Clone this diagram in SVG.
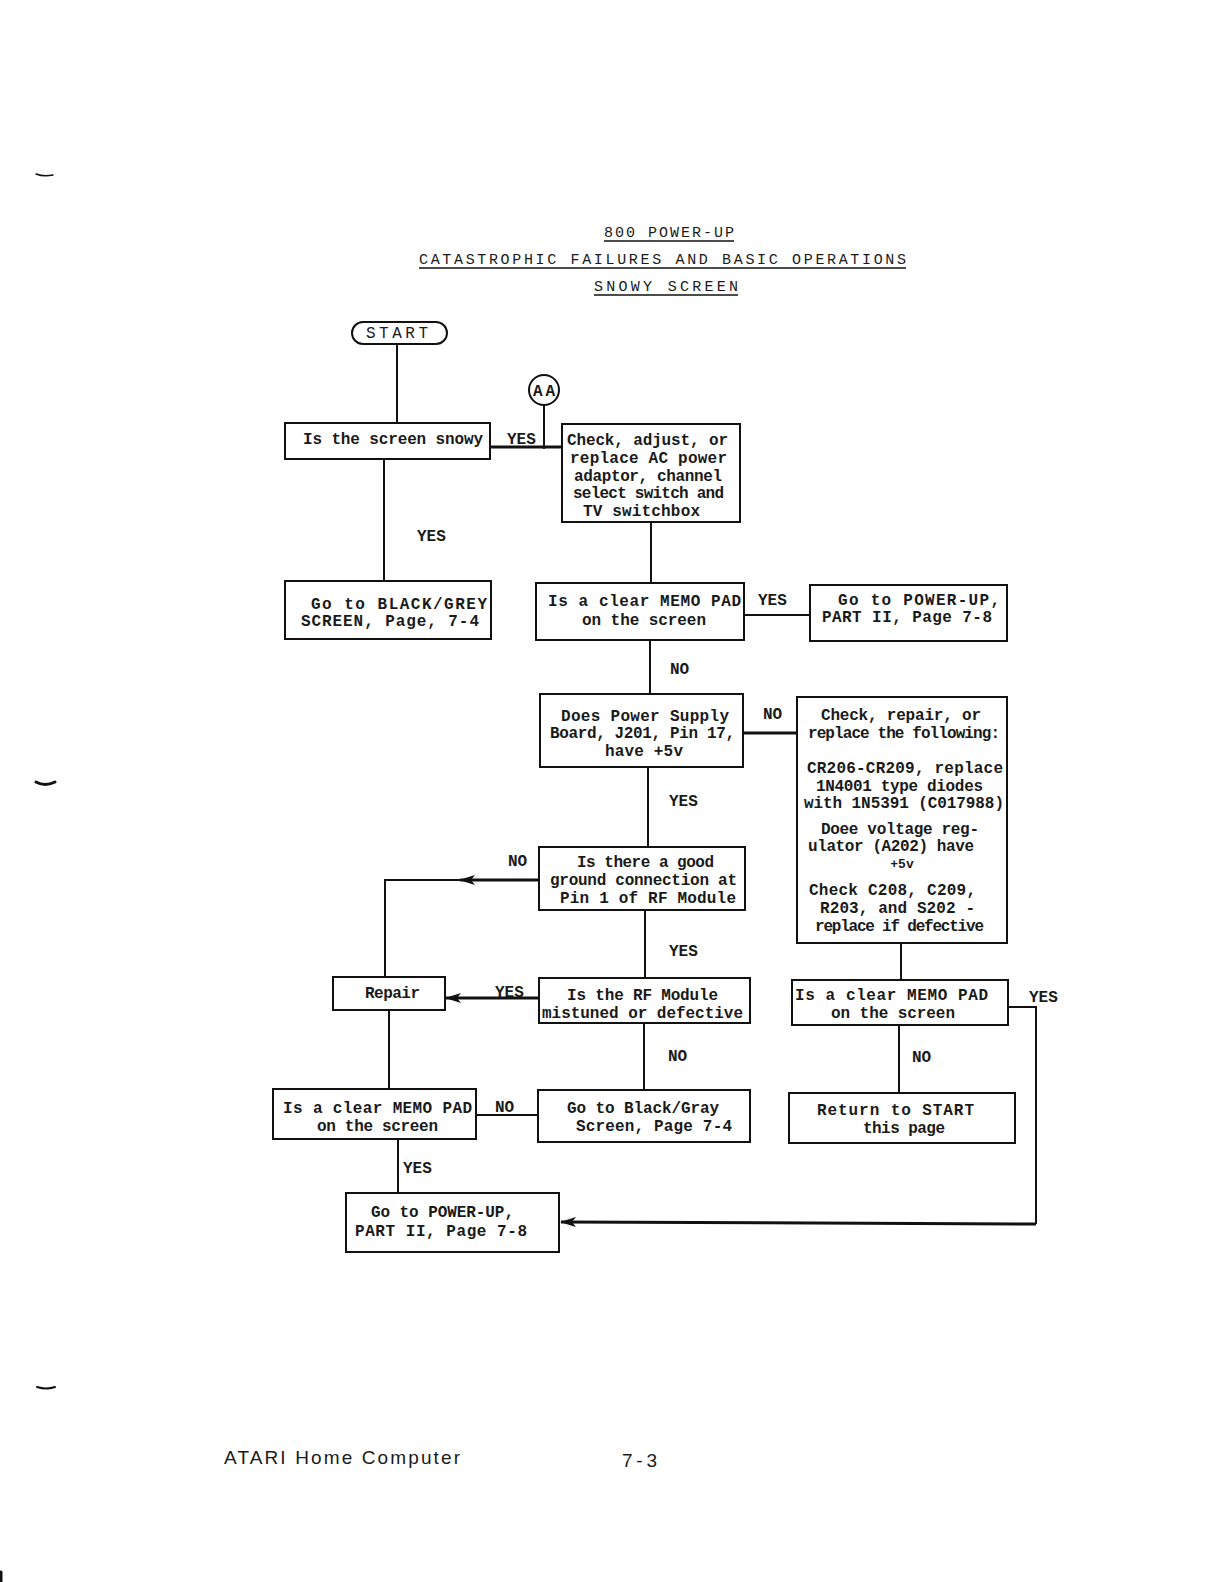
<svg xmlns="http://www.w3.org/2000/svg" width="1224" height="1582" viewBox="0 0 1224 1582">
<defs>
<style>
.t{font-family:"Liberation Mono","Courier New",monospace;font-size:16px;font-weight:bold;fill:#1a1a1a}
.h{font-family:"Liberation Mono","Courier New",monospace;font-size:15px;fill:#1a1a1a}
.f{font-family:"Liberation Sans",Arial,sans-serif;font-size:19px;fill:#1a1a1a}
.b{fill:#fff;stroke:#111;stroke-width:2}
.c{fill:none;stroke:#111;stroke-width:2}
.k{fill:none;stroke:#111;stroke-width:3}
.u{stroke:#111;stroke-width:1.5}
</style>
<marker id="ah" viewBox="0 0 16 10" refX="15" refY="5" markerWidth="16" markerHeight="10" markerUnits="userSpaceOnUse" orient="auto">
<path d="M16,5 L0,0 L4,5 L0,10 Z" fill="#111"/>
</marker>
</defs>
<rect width="1224" height="1582" fill="#fff"/>

<g id="title">
<text class="h" x="604" y="237" textLength="130" lengthAdjust="spacing">800 POWER-UP</text>
<line class="u" x1="604" y1="241" x2="734" y2="241"/>
<text class="h" x="419" y="264" textLength="487" lengthAdjust="spacing">CATASTROPHIC FAILURES AND BASIC OPERATIONS</text>
<line class="u" x1="419" y1="268" x2="906" y2="268"/>
<text class="h" x="594" y="291" textLength="144" lengthAdjust="spacing">SNOWY SCREEN</text>
<line class="u" x1="594" y1="295" x2="738" y2="295"/>
</g>

<g id="connectors">
<line class="c" x1="397" y1="344" x2="397" y2="424"/>
<line class="k" x1="490" y1="447" x2="562" y2="447"/>
<line class="c" x1="544" y1="405" x2="544" y2="449"/>
<line class="c" x1="384" y1="459" x2="384" y2="581"/>
<line class="c" x1="651" y1="522" x2="651" y2="583"/>
<line class="c" x1="744" y1="615" x2="810" y2="615"/>
<line class="c" x1="650" y1="640" x2="650" y2="694"/>
<line class="k" x1="743" y1="733" x2="797" y2="733"/>
<line class="c" x1="648" y1="767" x2="648" y2="847"/>
<line class="k" x1="539" y1="880" x2="460" y2="880" marker-end="url(#ah)"/>
<polyline class="c" points="462,880 385,880 385,977"/>
<line class="c" x1="645" y1="910" x2="645" y2="978"/>
<line class="k" x1="539" y1="998" x2="446" y2="998" marker-end="url(#ah)"/>
<line class="c" x1="644" y1="1023" x2="644" y2="1090"/>
<line class="c" x1="389" y1="1010" x2="389" y2="1089"/>
<line class="c" x1="476" y1="1115" x2="538" y2="1115"/>
<line class="c" x1="398" y1="1139" x2="398" y2="1193"/>
<line class="c" x1="901" y1="943" x2="901" y2="980"/>
<polyline class="c" points="1008,1007 1036,1007 1036,1224"/>
<line class="k" x1="1036" y1="1224" x2="561" y2="1222" marker-end="url(#ah)"/>
<line class="c" x1="899" y1="1025" x2="899" y2="1093"/>
<g class="t">
<text x="507" y="444">YES</text>
<text x="417" y="541">YES</text>
<text x="758" y="605">YES</text>
<text x="670" y="674">NO</text>
<text x="763" y="719">NO</text>
<text x="669" y="806">YES</text>
<text x="508" y="866">NO</text>
<text x="669" y="956">YES</text>
<text x="495" y="997">YES</text>
<text x="668" y="1061">NO</text>
<text x="495" y="1112">NO</text>
<text x="403" y="1173">YES</text>
<text x="1029" y="1002">YES</text>
<text x="912" y="1062">NO</text>
</g>
</g>

<g id="start">
<rect class="b" x="352" y="322" width="95" height="22" rx="11" ry="11"/>
<text class="t" x="366" y="338" textLength="62" lengthAdjust="spacing" style="font-weight:normal">START</text>
</g>

<g id="aa">
<circle class="b" cx="544" cy="390" r="15"/>
<text class="t" x="533" y="396" textLength="22" lengthAdjust="spacing">AA</text>
</g>

<g id="n1">
<rect class="b" x="285" y="423" width="205" height="36"/>
<text class="t" x="303" y="444" textLength="180" lengthAdjust="spacing">Is the screen snowy</text>
</g>

<g id="n2">
<rect class="b" x="562" y="424" width="178" height="98"/>
<text class="t" x="567" y="445" textLength="161" lengthAdjust="spacing">Check, adjust, or</text>
<text class="t" x="570" y="463" textLength="157" lengthAdjust="spacing">replace AC power</text>
<text class="t" x="574" y="481" textLength="148" lengthAdjust="spacing">adaptor, channel</text>
<text class="t" x="573" y="498" textLength="151" lengthAdjust="spacing">select switch and</text>
<text class="t" x="583" y="516" textLength="117" lengthAdjust="spacing">TV switchbox</text>
</g>

<g id="n3">
<rect class="b" x="285" y="581" width="206" height="58"/>
<text class="t" x="311" y="609" textLength="176" lengthAdjust="spacing">Go to BLACK/GREY</text>
<text class="t" x="301" y="626" textLength="178" lengthAdjust="spacing">SCREEN, Page, 7-4</text>
</g>

<g id="n4">
<rect class="b" x="536" y="583" width="208" height="57"/>
<text class="t" x="548" y="606" textLength="193" lengthAdjust="spacing">Is a clear MEMO PAD</text>
<text class="t" x="582" y="625" textLength="124" lengthAdjust="spacing">on the screen</text>
</g>

<g id="n5">
<rect class="b" x="810" y="585" width="197" height="56"/>
<text class="t" x="838" y="605" textLength="162" lengthAdjust="spacing">Go to POWER-UP,</text>
<text class="t" x="822" y="622" textLength="170" lengthAdjust="spacing">PART II, Page 7-8</text>
</g>

<g id="n6">
<rect class="b" x="540" y="694" width="203" height="73"/>
<text class="t" x="561" y="721" textLength="168" lengthAdjust="spacing">Does Power Supply</text>
<text class="t" x="550" y="738" textLength="185" lengthAdjust="spacing">Board, J201, Pin 17,</text>
<text class="t" x="605" y="756" textLength="78" lengthAdjust="spacing">have +5v</text>
</g>

<g id="n7">
<rect class="b" x="797" y="697" width="210" height="246"/>
<text class="t" x="821" y="720" textLength="160" lengthAdjust="spacing">Check, repair, or</text>
<text class="t" x="808" y="738" textLength="192" lengthAdjust="spacing">replace the following:</text>
<text class="t" x="807" y="773" textLength="196" lengthAdjust="spacing">CR206-CR209, replace</text>
<text class="t" x="816" y="791" textLength="167" lengthAdjust="spacing">1N4001 type diodes</text>
<text class="t" x="804" y="808" textLength="200" lengthAdjust="spacing">with 1N5391 (C017988)</text>
<text class="t" x="821" y="834" textLength="158" lengthAdjust="spacing">Doee voltage reg-</text>
<text class="t" x="808" y="851" textLength="166" lengthAdjust="spacing">ulator (A202) have</text>
<text class="t" x="902" y="868" text-anchor="middle" style="font-size:13px">+5v</text>
<text class="t" x="809" y="895" textLength="167" lengthAdjust="spacing">Check C208, C209,</text>
<text class="t" x="820" y="913" textLength="155" lengthAdjust="spacing">R203, and S202 -</text>
<text class="t" x="815" y="931" textLength="169" lengthAdjust="spacing">replace if defective</text>
</g>

<g id="n8">
<rect class="b" x="539" y="847" width="206" height="63"/>
<text class="t" x="577" y="867" textLength="137" lengthAdjust="spacing">Is there a good</text>
<text class="t" x="550" y="885" textLength="187" lengthAdjust="spacing">ground connection at</text>
<text class="t" x="560" y="903" textLength="176" lengthAdjust="spacing">Pin 1 of RF Module</text>
</g>

<g id="n9">
<rect class="b" x="333" y="977" width="112" height="33"/>
<text class="t" x="365" y="998" textLength="55" lengthAdjust="spacing">Repair</text>
</g>

<g id="n10">
<rect class="b" x="539" y="978" width="211" height="45"/>
<text class="t" x="567" y="1000" textLength="151" lengthAdjust="spacing">Is the RF Module</text>
<text class="t" x="542" y="1018" textLength="201" lengthAdjust="spacing">mistuned or defective</text>
</g>

<g id="n11">
<rect class="b" x="538" y="1090" width="212" height="52"/>
<text class="t" x="567" y="1113" textLength="152" lengthAdjust="spacing">Go to Black/Gray</text>
<text class="t" x="576" y="1131" textLength="156" lengthAdjust="spacing">Screen, Page 7-4</text>
</g>

<g id="n12">
<rect class="b" x="273" y="1089" width="203" height="50"/>
<text class="t" x="283" y="1113" textLength="189" lengthAdjust="spacing">Is a clear MEMO PAD</text>
<text class="t" x="317" y="1131" textLength="121" lengthAdjust="spacing">on the screen</text>
</g>

<g id="n13">
<rect class="b" x="346" y="1193" width="213" height="59"/>
<text class="t" x="371" y="1217" textLength="143" lengthAdjust="spacing">Go to POWER-UP,</text>
<text class="t" x="355" y="1236" textLength="172" lengthAdjust="spacing">PART II, Page 7-8</text>
</g>

<g id="n14">
<rect class="b" x="792" y="980" width="216" height="45"/>
<text class="t" x="795" y="1000" textLength="193" lengthAdjust="spacing">Is a clear MEMO PAD</text>
<text class="t" x="831" y="1018" textLength="124" lengthAdjust="spacing">on the screen</text>
</g>

<g id="n15">
<rect class="b" x="789" y="1093" width="226" height="50"/>
<text class="t" x="817" y="1115" textLength="157" lengthAdjust="spacing">Return to START</text>
<text class="t" x="863" y="1133" textLength="82" lengthAdjust="spacing">this page</text>
</g>

<g id="footer">
<text class="f" x="224" y="1464" textLength="236" lengthAdjust="spacing">ATARI Home Computer</text>
<text class="f" x="622" y="1467" textLength="35" lengthAdjust="spacing">7-3</text>
</g>

<g id="marks" stroke="#111" stroke-linecap="round" fill="none">
<path d="M36,174 Q44,177 53,175" stroke-width="1.5"/>
<path d="M36,782 Q45,787 55,782" stroke-width="3"/>
<path d="M37,1387 Q46,1390 55,1387" stroke-width="2"/>
<line x1="1" y1="1572" x2="1" y2="1582" stroke-width="3"/>
</g>
</svg>
